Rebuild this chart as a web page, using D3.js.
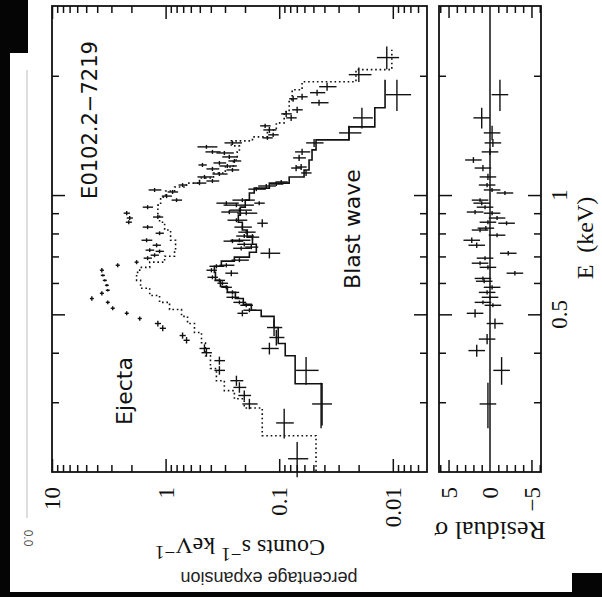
<!DOCTYPE html>
<html>
<head>
<meta charset="utf-8">
<script src="https://cdn.jsdelivr.net/npm/d3@7"></script>
<style>
  html, body { margin: 0; padding: 0; background: #fff; }
  svg { display: block; }
</style>
</head>
<body>
<svg id="chart" width="602" height="597"></svg>
<script>
// ---- Axis ticks and labels ----
const countMajorTicks = [10, 1, 0.1, 0.01];
const countTickLabels = ["10", "1", "0.1", "0.01"];
const energyMajorTicks = [0.5, 1];
const energyTickLabels = ["0.5", "1"];
const energyMinorTicks = [0.3, 0.4, 0.6, 0.7, 0.8, 0.9, 2];
const residMajorTicks = [5, 0, -5];
const residTickLabels = ["5", "0", "\u22125"];
const residMinorTicks = [-6, -4, -3, -2, -1, 1, 2, 3, 4, 6];

// ---- Ejecta spectrum: energy (keV), counts s^-1 keV^-1, half bin width, count error ----
const ejectaE  = [2.223, 2.013, 1.877, 1.813, 1.710, 1.770, 1.750, 1.641, 1.566, 1.603,
                  1.460, 1.495, 1.419, 1.394, 1.354, 1.323, 1.285, 1.277, 1.248, 1.219,
                  1.205, 1.191, 1.184, 1.164, 1.157, 1.130, 1.111, 1.085, 1.072, 1.060,
                  1.030, 1.018, 0.994, 0.971, 0.932, 0.880, 0.900, 0.875, 0.854, 0.830,
                  0.801, 0.769, 0.747, 0.726, 0.721, 0.705, 0.693, 0.677, 0.665, 0.646,
                  0.627, 0.609, 0.592, 0.575, 0.565, 0.548, 0.536, 0.518, 0.503, 0.488,
                  0.474, 0.461, 0.442, 0.430, 0.410, 0.400, 0.382, 0.361, 0.340, 0.327,
                  0.312, 0.297, 0.266, 0.216];
const ejectaC  = [0.0113, 0.0199, 0.0379, 0.0464, 0.0446, 0.0629, 0.0754, 0.0695, 0.0785, 0.0868,
                  0.122, 0.133, 0.113, 0.127, 0.258, 0.437, 0.387, 0.304, 0.275, 0.248,
                  0.336, 0.474, 0.286, 0.387, 0.258, 0.336, 0.455, 0.387, 0.503, 0.709,
                  1.25, 0.868, 0.980, 0.801, 1.44, 1.17, 2.20, 2.07, 2.11, 1.44,
                  1.13, 1.47, 1.20, 1.38, 1.13, 1.25, 1.44, 1.80, 2.64, 3.64,
                  3.57, 3.43, 3.29, 3.23, 3.64, 4.46, 3.23, 2.92, 2.20, 1.69,
                  1.17, 1.06, 0.709, 0.654, 0.455, 0.437, 0.336, 0.336, 0.238, 0.224,
                  0.203, 0.183, 0.0904, 0.0695];
const ejectaDE = [0.147, 0.084, 0.044, 0.032, 0.030, 0.031, 0.031, 0.029, 0.028, 0.028,
                  0.026, 0.018, 0.017, 0.016, 0.016, 0.015, 0.015, 0.015, 0.015, 0.014,
                  0.014, 0.014, 0.014, 0.014, 0.014, 0.013, 0.013, 0.013, 0.013, 0.012,
                  0.012, 0.012, 0.012, 0.011, 0.011, 0.010, 0.011, 0.010, 0.010, 0.010,
                  0.009, 0.009, 0.009, 0.008, 0.008, 0.008, 0.008, 0.008, 0.008, 0.008,
                  0.004, 0.004, 0.004, 0.004, 0.007, 0.007, 0.006, 0.006, 0.006, 0.006,
                  0.008, 0.008, 0.008, 0.008, 0.010, 0.009, 0.009, 0.009, 0.010, 0.010,
                  0.009, 0.009, 0.023, 0.022];
const ejectaDC = [0.0025, 0.0045, 0.0066, 0.0071, 0.0078, 0.0067, 0.0063, 0.0074, 0.0083, 0.0092,
                  0.016, 0.014, 0.012, 0.013, 0.045, 0.087, 0.059, 0.053, 0.042, 0.032,
                  0.043, 0.040, 0.050, 0.050, 0.033, 0.051, 0.069, 0.050, 0.065, 0.060,
                  0.16, 0.092, 0.10, 0.085, 0.15, 0.12, 0.14, 0.13, 0.13, 0.15,
                  0.095, 0.16, 0.10, 0.12, 0.095, 0.105, 0.12, 0.074, 0.11, 0.15,
                  0.15, 0.14, 0.13, 0.13, 0.15, 0.18, 0.13, 0.12, 0.09, 0.07,
                  0.073, 0.066, 0.044, 0.041, 0.048, 0.046, 0.036, 0.036, 0.031, 0.029,
                  0.026, 0.028, 0.016, 0.014];

// ---- Blast wave spectrum ----
const blastE  = [1.792, 1.566, 1.435, 1.354, 1.285, 1.241, 1.177, 1.170, 1.137, 1.079,
                 1.066, 1.054, 1.035, 0.971, 0.943, 0.954, 0.916, 0.954, 0.906, 0.900,
                 0.864, 0.830, 0.849, 0.806, 0.788, 0.769, 0.765, 0.783, 0.751, 0.734,
                 0.739, 0.713, 0.685, 0.665, 0.661, 0.646, 0.635, 0.620, 0.609, 0.599,
                 0.585, 0.568, 0.552, 0.536, 0.527, 0.512, 0.503, 0.463, 0.437, 0.410,
                 0.361, 0.297];
const blastC  = [0.0092, 0.0187, 0.0243, 0.0493, 0.0629, 0.0668, 0.0641, 0.0710, 0.0580, 0.0960,
                 0.106, 0.130, 0.159, 0.211, 0.238, 0.292, 0.224, 0.150, 0.275, 0.195,
                 0.238, 0.211, 0.141, 0.195, 0.203, 0.224, 0.258, 0.172, 0.203, 0.216,
                 0.176, 0.122, 0.224, 0.292, 0.357, 0.395, 0.264, 0.387, 0.336, 0.316,
                 0.292, 0.258, 0.258, 0.224, 0.195, 0.183, 0.211, 0.111, 0.106, 0.122,
                 0.0580, 0.0428];
const blastDE = [0.163, 0.094, 0.060, 0.032, 0.023, 0.022, 0.021, 0.021, 0.020, 0.013,
                 0.012, 0.012, 0.012, 0.011, 0.011, 0.011, 0.011, 0.011, 0.011, 0.011,
                 0.010, 0.010, 0.020, 0.009, 0.009, 0.009, 0.009, 0.014, 0.009, 0.009,
                 0.009, 0.021, 0.008, 0.008, 0.008, 0.008, 0.011, 0.007, 0.007, 0.007,
                 0.007, 0.007, 0.006, 0.006, 0.006, 0.006, 0.009, 0.022, 0.020, 0.014,
                 0.029, 0.039];
const blastDC = [0.0023, 0.0037, 0.0054, 0.0086, 0.0096, 0.0086, 0.0068, 0.0075, 0.0061, 0.012,
                 0.014, 0.023, 0.028, 0.047, 0.071, 0.065, 0.050, 0.016, 0.048, 0.039,
                 0.047, 0.037, 0.015, 0.034, 0.036, 0.045, 0.051, 0.022, 0.031, 0.038,
                 0.023, 0.024, 0.039, 0.044, 0.054, 0.042, 0.034, 0.041, 0.036, 0.034,
                 0.031, 0.033, 0.033, 0.029, 0.025, 0.024, 0.022, 0.017, 0.016, 0.021,
                 0.013, 0.0085];

// ---- Model spectra: bin edges (keV) and counts per bin ----
const ejectaModelEdges = [0.201, 0.247, 0.290, 0.306, 0.321, 0.340, 0.365, 0.393, 0.424, 0.450,
                          0.474, 0.494, 0.514, 0.536, 0.558, 0.582, 0.609, 0.638, 0.657, 0.677,
                          0.701, 0.726, 0.769, 0.816, 0.854, 0.890, 0.943, 0.988, 1.024, 1.048,
                          1.072, 1.104, 1.137, 1.177, 1.226, 1.285, 1.331, 1.370, 1.402, 1.460,
                          1.521, 1.623, 1.740, 1.844, 1.932, 2.073, 2.328];
const ejectaModelC = [0.0474, 0.141, 0.203, 0.248, 0.304, 0.357, 0.403, 0.446, 0.483, 0.557,
                      0.641, 0.724, 0.923, 1.13, 1.38, 1.66, 1.80, 1.69, 1.38, 1.02,
                      0.834, 0.817, 0.904, 1.02, 1.13, 1.17, 1.106, 1.0, 0.834, 0.654,
                      0.503, 0.379, 0.298, 0.253, 0.234, 0.224, 0.264, 0.172, 0.127, 0.106,
                      0.0904, 0.0817, 0.0769, 0.0629, 0.0211, 0.0102];
const blastModelEdges = [0.262, 0.334, 0.393, 0.422, 0.463, 0.494, 0.512, 0.530, 0.548, 0.568,
                         0.588, 0.609, 0.638, 0.661, 0.681, 0.697, 0.717, 0.751, 0.783, 0.816,
                         0.854, 0.890, 0.932, 0.971, 1.012, 1.041, 1.072, 1.111, 1.157, 1.226,
                         1.300, 1.378, 1.486, 1.661, 1.955];
const blastModelC = [0.0420, 0.0724, 0.0885, 0.102, 0.111, 0.144, 0.176, 0.207, 0.243, 0.286,
                     0.329, 0.364, 0.372, 0.323, 0.248, 0.183, 0.159, 0.172, 0.191, 0.211,
                     0.229, 0.220, 0.199, 0.183, 0.166, 0.122, 0.0817, 0.0604, 0.0546, 0.0514,
                     0.0474, 0.0243, 0.0144, 0.0117];

// ---- Residuals (sigma) ----
const residE  = [1.792, 1.566, 1.435, 1.354, 1.285, 1.226, 1.170, 1.111, 1.060, 1.030,
                 1.012, 0.971, 0.954, 0.932, 0.906, 0.900, 0.875, 0.854, 0.849, 0.816,
                 0.825, 0.792, 0.769, 0.747, 0.713, 0.693, 0.673, 0.657, 0.635, 0.616,
                 0.606, 0.585, 0.568, 0.552, 0.536, 0.527, 0.503, 0.474, 0.433, 0.405,
                 0.361, 0.297];
const residR  = [-1.2, 1.0, -0.25, -0.35, 0.0, 2.0, 0.85, 0.25, 0.35, -0.25,
                 -1.8, 1.2, 1.0, 0.6, 1.8, -0.25, -0.85, 0.25, -2.0, 1.2,
                 0.5, -0.85, 2.2, 1.6, -2.2, 0.6, 1.2, 0.25, -3.0, 0.85,
                 0.7, -0.25, 0.35, 0.0, 0.85, -0.35, 1.8, -0.6, 0.35, 1.6,
                 -1.4, 0.25];
const residDE = [0.163, 0.094, 0.060, 0.032, 0.023, 0.021, 0.021, 0.020, 0.013, 0.012,
                 0.012, 0.011, 0.011, 0.011, 0.011, 0.011, 0.010, 0.010, 0.010, 0.010,
                 0.010, 0.009, 0.012, 0.012, 0.009, 0.008, 0.008, 0.008, 0.008, 0.007,
                 0.007, 0.007, 0.007, 0.006, 0.006, 0.006, 0.012, 0.014, 0.013, 0.014,
                 0.029, 0.039];

// ---- Layout ----
const main = { left: 52, right: 427, top: 6, bottom: 472 };
const res  = { left: 439, right: 541 };

const svg = d3.select("#chart");

// scanned page surround
svg.append("rect").attr("x", 0).attr("y", 0).attr("width", 602).attr("height", 597).attr("fill", "#fff");
svg.append("line").attr("x1", 27).attr("x2", 27).attr("y1", 70).attr("y2", 518)
  .attr("stroke", "#bdbdbd").attr("stroke-width", 1);
const pageText = svg.append("g").attr("fill", "#222");
pageText.append("text")
  .attr("transform", "translate(269,572) rotate(180)")
  .attr("text-anchor", "middle")
  .attr("font-family", "Liberation Sans, Arial, sans-serif")
  .attr("font-size", 18)
  .text("percentage expansion");
pageText.append("text")
  .attr("transform", "translate(24,538) rotate(90)")
  .attr("text-anchor", "middle")
  .attr("font-family", "Liberation Sans, Arial, sans-serif")
  .attr("font-size", 12)
  .attr("fill", "#555")
  .text("0.0");
const black = svg.append("g").attr("fill", "#050505");
black.append("rect").attr("x", 0).attr("y", 0).attr("width", 28).attr("height", 53);
black.append("rect").attr("x", 0).attr("y", 0).attr("width", 10).attr("height", 597);
black.append("rect").attr("x", 0).attr("y", 592).attr("width", 602).attr("height", 5);
black.append("rect").attr("x", 572).attr("y", 573).attr("width", 30).attr("height", 24);

// ---- Scales ----
const xC = d3.scaleLog().domain([0.005, 10]).range([main.right, main.left]);
const yE = d3.scaleLog().domain([0.2, 3]).range([main.bottom, main.top]);
const xR = d3.scaleLinear().domain([-6.15, 6.15]).range([res.right, res.left]);

const ink = "#111";

// count axis minor ticks: 2..9 within each decade
const countMinor = [];
[0.001, 0.01, 0.1, 1].forEach(d => {
  for (let k = 2; k <= 9; k++) {
    const v = d * k;
    if (v > 0.005 && v < 10) countMinor.push(v);
  }
});

function tickAxis(axis, values, size, transform) {
  const g = svg.append("g").attr("transform", transform)
    .call(axis.tickValues(values).tickSize(size).tickFormat(""));
  g.select(".domain").remove();
  g.selectAll(".tick line").attr("stroke", ink).attr("stroke-width", 1.5);
  return g;
}

// main panel ticks
tickAxis(d3.axisTop(xC), countMinor, -7, `translate(0,${main.top})`);
tickAxis(d3.axisTop(xC), countMajorTicks, -13, `translate(0,${main.top})`);
tickAxis(d3.axisBottom(xC), countMinor, -7, `translate(0,${main.bottom})`);
tickAxis(d3.axisBottom(xC), countMajorTicks, -13, `translate(0,${main.bottom})`);
tickAxis(d3.axisLeft(yE), energyMinorTicks, -7, `translate(${main.left},0)`);
tickAxis(d3.axisLeft(yE), energyMajorTicks, -13, `translate(${main.left},0)`);
tickAxis(d3.axisRight(yE), energyMinorTicks, -7, `translate(${main.right},0)`);
tickAxis(d3.axisRight(yE), energyMajorTicks, -13, `translate(${main.right},0)`);

// residual panel ticks
tickAxis(d3.axisTop(xR), residMinorTicks, -7, `translate(0,${main.top})`);
tickAxis(d3.axisTop(xR), [5, -5], -12, `translate(0,${main.top})`);
tickAxis(d3.axisBottom(xR), residMinorTicks, -7, `translate(0,${main.bottom})`);
tickAxis(d3.axisBottom(xR), [5, -5], -12, `translate(0,${main.bottom})`);
tickAxis(d3.axisLeft(yE), energyMinorTicks, -7, `translate(${res.left},0)`);
tickAxis(d3.axisLeft(yE), energyMajorTicks, -13, `translate(${res.left},0)`);
tickAxis(d3.axisRight(yE), energyMinorTicks, -7, `translate(${res.right},0)`);
tickAxis(d3.axisRight(yE), energyMajorTicks, -13, `translate(${res.right},0)`);

// zero line of residuals
svg.append("line")
  .attr("x1", xR(0)).attr("x2", xR(0)).attr("y1", main.top).attr("y2", main.bottom)
  .attr("stroke", ink).attr("stroke-width", 1.5);

// frames
svg.append("rect").attr("x", main.left).attr("y", main.top)
  .attr("width", main.right - main.left).attr("height", main.bottom - main.top)
  .attr("fill", "none").attr("stroke", ink).attr("stroke-width", 1.8);
svg.append("rect").attr("x", res.left).attr("y", main.top)
  .attr("width", res.right - res.left).attr("height", main.bottom - main.top)
  .attr("fill", "none").attr("stroke", ink).attr("stroke-width", 1.8);

// ---- Model step curves ----
function stepPoints(edges, counts) {
  const pts = [];
  counts.forEach((c, i) => {
    pts.push([edges[i], c]);
    pts.push([edges[i + 1], c]);
  });
  return pts;
}
const stepLine = d3.line().x(d => xC(d[1])).y(d => yE(d[0]));

svg.append("path")
  .attr("d", stepLine(stepPoints(ejectaModelEdges, ejectaModelC)))
  .attr("fill", "none").attr("stroke", ink).attr("stroke-width", 1.6)
  .attr("stroke-dasharray", "1.6 2.8");

svg.append("path")
  .attr("d", stepLine(stepPoints(blastModelEdges, blastModelC)))
  .attr("fill", "none").attr("stroke", ink).attr("stroke-width", 1.6);

// ---- Data crosses ----
function crosses(E, C, dE, dC) {
  const g = svg.append("g").attr("stroke", ink).attr("stroke-width", 1.4);
  E.forEach((e, i) => {
    g.append("line")
      .attr("x1", xC(C[i])).attr("x2", xC(C[i]))
      .attr("y1", yE(e - dE[i])).attr("y2", yE(e + dE[i]));
    g.append("line")
      .attr("x1", xC(C[i] - dC[i])).attr("x2", xC(C[i] + dC[i]))
      .attr("y1", yE(e)).attr("y2", yE(e));
  });
}
crosses(ejectaE, ejectaC, ejectaDE, ejectaDC);
crosses(blastE, blastC, blastDE, blastDC);

const rg = svg.append("g").attr("stroke", ink).attr("stroke-width", 1.4);
residE.forEach((e, i) => {
  rg.append("line")
    .attr("x1", xR(residR[i])).attr("x2", xR(residR[i]))
    .attr("y1", yE(e - residDE[i])).attr("y2", yE(e + residDE[i]));
  rg.append("line")
    .attr("x1", xR(residR[i] - 1)).attr("x2", xR(residR[i] + 1))
    .attr("y1", yE(e)).attr("y2", yE(e));
});

// ---- Text ----
const serif = "Liberation Serif, Times New Roman, serif";
const sans = "DejaVu Sans, Verdana, sans-serif";

countMajorTicks.forEach((v, i) => {
  svg.append("text")
    .attr("transform", `translate(${xC(v)},487) rotate(-90)`)
    .attr("text-anchor", "end").attr("dy", "0.35em")
    .attr("font-family", serif).attr("font-size", 23).attr("fill", ink)
    .text(countTickLabels[i]);
});
residMajorTicks.forEach((v, i) => {
  svg.append("text")
    .attr("transform", `translate(${xR(v)},487) rotate(-90)`)
    .attr("text-anchor", "end").attr("dy", "0.35em")
    .attr("font-family", serif).attr("font-size", 23).attr("fill", ink)
    .text(residTickLabels[i]);
});
energyMajorTicks.forEach((v, i) => {
  svg.append("text")
    .attr("transform", `translate(567,${yE(v)}) rotate(-90)`)
    .attr("text-anchor", "middle")
    .attr("font-family", serif).attr("font-size", 23).attr("fill", ink)
    .text(energyTickLabels[i]);
});

svg.append("text")
  .attr("transform", "translate(593,238) rotate(-90)")
  .attr("text-anchor", "middle")
  .attr("font-family", serif).attr("font-size", 24).attr("fill", ink)
  .attr("xml:space", "preserve")
  .text("E  (keV)");

const ct = svg.append("text")
  .attr("transform", "translate(240,540) rotate(180)")
  .attr("text-anchor", "middle")
  .attr("font-family", serif).attr("font-size", 24).attr("fill", ink);
ct.append("tspan").text("Counts s");
ct.append("tspan").attr("font-size", 19).attr("dy", "-0.4em").text("\u22121");
ct.append("tspan").attr("dy", "0.4em").text(" keV");
ct.append("tspan").attr("font-size", 19).attr("dy", "-0.4em").text("\u22121");

svg.append("text")
  .attr("transform", "translate(490,522) rotate(180)")
  .attr("text-anchor", "middle")
  .attr("font-family", serif).attr("font-size", 26).attr("fill", ink)
  .text("Residual \u03c3");

svg.append("text")
  .attr("transform", "translate(97,120) rotate(-90)")
  .attr("text-anchor", "middle")
  .attr("font-family", sans).attr("font-size", 21).attr("fill", ink)
  .text("E0102.2\u22127219");
svg.append("text")
  .attr("transform", "translate(132,391) rotate(-90)")
  .attr("text-anchor", "middle")
  .attr("font-family", sans).attr("font-size", 22).attr("fill", ink)
  .text("Ejecta");
svg.append("text")
  .attr("transform", "translate(360,229) rotate(-90)")
  .attr("text-anchor", "middle")
  .attr("font-family", sans).attr("font-size", 22).attr("fill", ink)
  .text("Blast wave");
</script>
</body>
</html>
